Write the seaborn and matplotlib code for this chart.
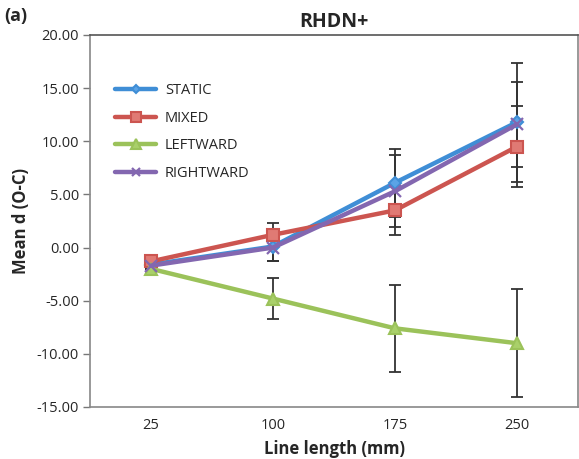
import matplotlib
matplotlib.use("Agg")
import matplotlib.pyplot as plt
import seaborn as sns
import pandas as pd
import numpy as np

categories = ["25", "100", "175", "250"]
static_mean = [-1.6, 0.1, 6.1, 11.8]
static_err = [0.0, 1.4, 3.2, 5.6]
mixed_mean = [-1.3, 1.2, 3.5, 9.5]
mixed_err = [0.0, 1.1, 2.3, 3.8]
leftward_mean = [-2.0, -4.8, -7.6, -9.0]
leftward_err = [0.0, 1.9, 4.1, 5.1]
rightward_mean = [-1.7, 0.0, 5.3, 11.6]
rightward_err = [0.0, 1.3, 3.4, 4.0]
series_names = ["STATIC", "MIXED", "LEFTWARD", "RIGHTWARD"]
y_ticks = [-15, -10, -5, 0, 5, 10, 15, 20]

means = [static_mean, mixed_mean, leftward_mean, rightward_mean]
errs = [static_err, mixed_err, leftward_err, rightward_err]
colors = {"STATIC": "#3f8ed6", "MIXED": "#cc5550", "LEFTWARD": "#9bc25a", "RIGHTWARD": "#8367b0"}
markers = {"STATIC": "D", "MIXED": "s", "LEFTWARD": "^", "RIGHTWARD": "x"}
msizes = {"STATIC": 6, "MIXED": 9, "LEFTWARD": 9, "RIGHTWARD": 8}
mfc = {"STATIC": "#5ba3e6", "MIXED": "#e07a74", "LEFTWARD": "#a9d06a", "RIGHTWARD": "#8367b0"}

rows = []
for name, m, e in zip(series_names, means, errs):
    for i, (cat, v, ev) in enumerate(zip(categories, m, e)):
        rows.append({"cond": name, "pos": i, "cat": cat, "mean": v, "err": ev})
df = pd.DataFrame(rows)

sns.set_style("white")
plt.rcParams["font.family"] = ["Open Sans", "DejaVu Sans"]

fig = plt.figure(figsize=(5.79, 4.59), dpi=100)
ax = fig.add_axes([90/579, 52/459, 488/579, 372/459])

for name in series_names:
    d = df[df.cond == name]
    ax.errorbar(d["pos"], d["mean"], yerr=d["err"], fmt="none", ecolor="#333333",
                elinewidth=1.3, capsize=4, capthick=1.3, zorder=1)

for name in series_names:
    d = df[df.cond == name]
    sns.lineplot(data=d, x="pos", y="mean", ax=ax, color=colors[name], linewidth=3.2,
                 marker=markers[name], markersize=msizes[name],
                 markerfacecolor=mfc[name], markeredgecolor=colors[name],
                 markeredgewidth=1.5 if name != "RIGHTWARD" else 1.6,
                 label=name, zorder=3, errorbar=None)

ax.set_xlim(-0.5, 3.5)
ax.set_ylim(-15, 20)
ax.set_xticks(range(len(categories)))
ax.set_xticklabels(categories)
ax.set_yticks(y_ticks)
ax.set_yticklabels([f"{t:.2f}" for t in y_ticks])
ax.tick_params(axis="y", which="both", left=True, length=5, width=1, color="#777777",
               labelsize=10.5, pad=3)
ax.tick_params(axis="x", length=0, labelsize=10.5, pad=8)
for s in ["left", "bottom", "top", "right"]:
    ax.spines[s].set_color("#888888")
    ax.spines[s].set_linewidth(1.2)
ax.spines["top"].set_color("#555555")
ax.set_xlabel("Line length (mm)", fontsize=12, fontweight="bold", labelpad=5)
ax.set_ylabel("Mean d (O-C)", fontsize=12, fontweight="bold", labelpad=5)
ax.set_title("RHDN+", fontsize=14, fontweight="bold", pad=6)
fig.text(0.008, 0.965, "(a)", fontsize=13, fontweight="bold", va="center")

leg = ax.legend(loc="upper left", bbox_to_anchor=(0.025, 0.905), frameon=False,
                fontsize=10.5, handlelength=2.8, labelspacing=0.85, handletextpad=0.6,
                markerscale=0.75)

fig.savefig("out.png", dpi=100)
